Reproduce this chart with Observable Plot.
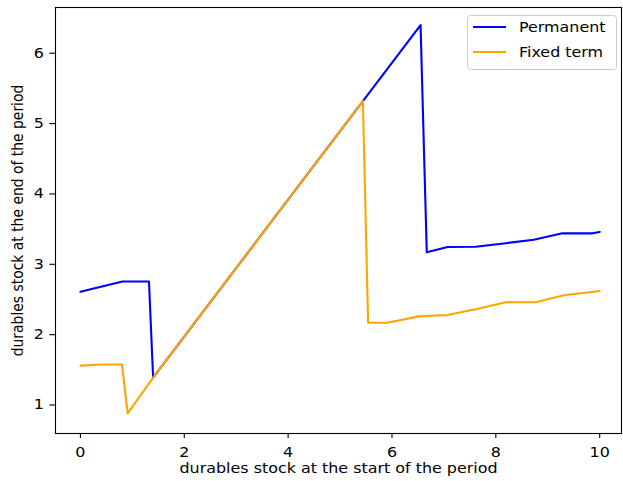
<!DOCTYPE html>
<html>
<head>
<meta charset="utf-8">
<script src="https://cdn.jsdelivr.net/npm/d3@7"></script>
<script src="https://cdn.jsdelivr.net/npm/@observablehq/plot@0.6"></script>
<style>
  html, body { margin: 0; padding: 0; background: white; overflow: hidden; }
  #chart { width: 623px; height: 481px; }
  #chart svg, #chart svg text { font-family: "DejaVu Sans", sans-serif !important; }
</style>
</head>
<body>
<div id="chart"></div>
<script>
// Permanent (blue)
const permX = [0, 0.81, 1.32, 1.40, 5.44, 6.55, 6.67, 7.07, 7.61, 8.19, 8.73, 9.28, 9.86, 10];
const permY = [2.61, 2.755, 2.755, 1.39, 5.32, 6.40, 3.17, 3.245, 3.25, 3.30, 3.35, 3.44, 3.44, 3.46];
// Fixed term (orange)
const fixedX = [0, 0.40, 0.80, 0.91, 1.40, 5.44, 5.54, 5.91, 6.52, 7.07, 7.61, 8.19, 8.77, 9.31, 10];
const fixedY = [1.56, 1.575, 1.575, 0.88, 1.39, 5.32, 2.17, 2.17, 2.26, 2.28, 2.36, 2.46, 2.46, 2.56, 2.62];

const seriesNames = ["Permanent", "Fixed term"];
const seriesColors = ["#0000ff", "#ffa500"];
const xTicks = [0, 2, 4, 6, 8, 10];
const yTicks = [1, 2, 3, 4, 5, 6];
const xLabel = "durables stock at the start of the period";
const yLabel = "durables stock at the end of the period";

const perm = permX.map((x, i) => ({x, y: permY[i]}));
const fixed = fixedX.map((x, i) => ({x, y: fixedY[i]}));

const fs = 13.9;      // font size (vertical)
const sx = 1.145;     // horizontal stretch of the reference image
const chart = Plot.plot({
  width: 623,
  height: 481,
  marginLeft: 55,
  marginRight: 2,
  marginTop: 7,
  marginBottom: 48,
  style: {fontFamily: "'DejaVu Sans', sans-serif", fontSize: fs + "px", background: "white", color: "black", overflow: "visible"},
  x: {domain: [-0.48, 10.42]},
  y: {domain: [0.595, 6.65]},
  marks: [
    Plot.axisX({ticks: xTicks, tickSize: 4.9, tickPadding: 8.5, tickFormat: d => String(d), label: null, strokeWidth: 1.1, fontSize: fs}),
    Plot.axisY({ticks: yTicks, tickSize: 5.6, tickPadding: 6, tickFormat: d => String(d), label: null, strokeWidth: 1.1, fontSize: fs}),
    Plot.line(perm, {x: "x", y: "y", stroke: seriesColors[0], strokeWidth: 2.1}),
    Plot.line(fixed, {x: "x", y: "y", stroke: seriesColors[1], strokeWidth: 2.1}),
    Plot.frame({stroke: "black", strokeWidth: 1.1}),
    Plot.text([xLabel], {frameAnchor: "bottom", dy: 39.5, text: d => d, fontSize: fs, textAnchor: "middle"}),
    Plot.text([yLabel], {frameAnchor: "left", dx: -38, rotate: -90, text: d => d, fontSize: fs, textAnchor: "middle"})
  ]
});
chart.setAttribute("font-family", "DejaVu Sans, sans-serif");
document.getElementById("chart").appendChild(chart);

// Legend (upper right, matplotlib style)
const svg = d3.select(chart);
const lg = svg.append("g").attr("font-family", "DejaVu Sans, sans-serif").attr("font-size", fs).attr("text-anchor", "start");
lg.append("rect").attr("x", 467.5).attr("y", 15.5).attr("width", 149).attr("height", 54)
  .attr("rx", 3).attr("fill", "white").attr("fill-opacity", 0.8).attr("stroke", "#cccccc");
seriesNames.forEach((name, i) => {
  const yy = 27 + i * 25;
  lg.append("line").attr("x1", 473).attr("x2", 506).attr("y1", yy).attr("y2", yy)
    .attr("stroke", seriesColors[i]).attr("stroke-width", 2.1);
  lg.append("text").attr("transform", `translate(519,${yy})`).attr("dy", "0.35em").attr("fill", "black").attr("text-anchor", "start").text(name);
});

// the reference image is stretched horizontally: stretch every text around its anchor
svg.selectAll("text").each(function() {
  const t = this.getAttribute("transform") || "";
  this.setAttribute("transform", t + (/rotate/.test(t) ? ` scale(1,${sx})` : ` scale(${sx},1)`));
});
</script>
</body>
</html>
